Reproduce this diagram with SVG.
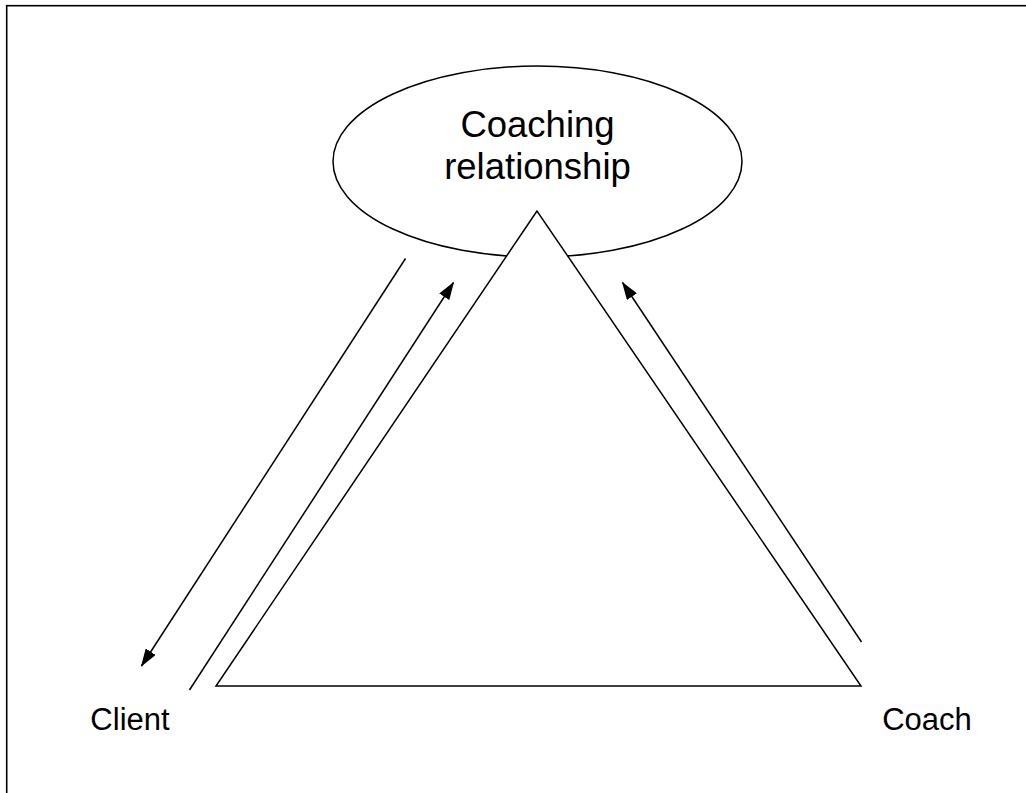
<svg xmlns="http://www.w3.org/2000/svg" width="1026" height="793" viewBox="0 0 1026 793">
  <style>
    .shape { fill: #fff; stroke: #000; stroke-width: 1.5; }
    .conn { fill: none; stroke: #000; stroke-width: 1.5; }
    .label { font-family: "Liberation Sans", Arial, sans-serif; fill: #000; text-anchor: middle; }
  </style>
  <defs>
    <marker id="arrow" markerUnits="userSpaceOnUse" markerWidth="18" markerHeight="12" refX="17" refY="6" orient="auto">
      <path d="M0,0 L18,6 L0,12 Z" fill="#000"/>
    </marker>
  </defs>

  <rect x="0" y="0" width="1026" height="793" fill="#fff"/>
  <!-- frame -->
  <rect x="6.7" y="5.7" width="1040" height="800" fill="none" stroke="#000" stroke-width="1.6"/>

  <g id="relationship">
    <ellipse class="shape" cx="537.5" cy="161.5" rx="204.5" ry="95.5"/>
    <text class="label" x="537.5" y="137" font-size="36.5">Coaching</text>
    <text class="label" x="537.5" y="179" font-size="36.5">relationship</text>
  </g>

  <g id="triangle">
    <polygon class="shape" points="537,211 216,686 861,686"/>
  </g>

  <g id="client">
    <text class="label" x="130" y="730" font-size="31">Client</text>
  </g>

  <g id="coach">
    <text class="label" x="927" y="730" font-size="31">Coach</text>
  </g>

  <g id="connectors">
    <line class="conn" x1="405.5" y1="258.5" x2="141.5" y2="666" marker-end="url(#arrow)"/>
    <line class="conn" x1="189.5" y1="690" x2="453.5" y2="282.5" marker-end="url(#arrow)"/>
    <line class="conn" x1="861.5" y1="642" x2="622.5" y2="282.5" marker-end="url(#arrow)"/>
  </g>
</svg>
